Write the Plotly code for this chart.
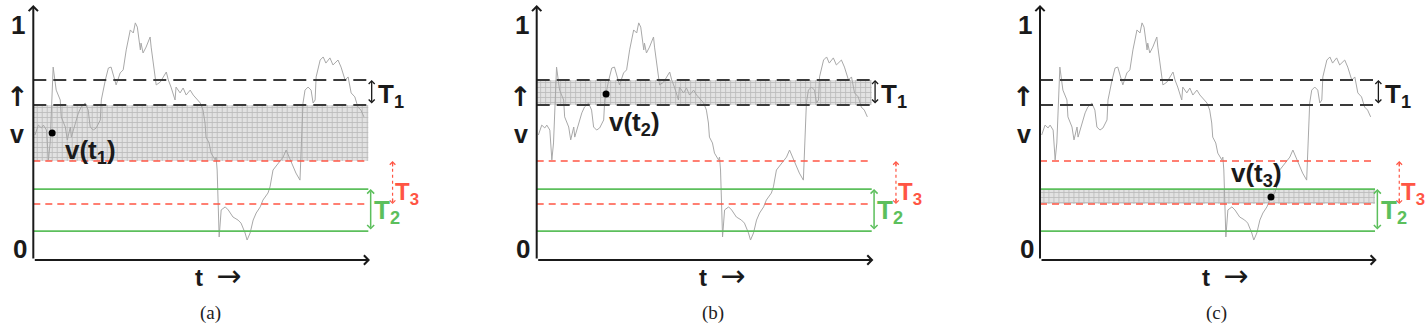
import plotly.graph_objects as go

# ---------------- data ----------------
T_WALK = [0.5, 1.5, 2.4, 3.0, 3.9, 4.5, 5.0, 5.9, 6.8, 8.0,
          8.3, 9.5, 10.1, 11.0, 11.3, 12.5, 13.4, 14.2, 15.4, 16.3,
          16.9, 17.8, 18.7, 19.9, 20.2, 21.4, 22.3, 23.1, 24.3, 24.6,
          25.8, 26.7, 27.6, 28.8, 29.7, 30.3, 30.9, 31.8, 32.0, 32.6,
          33.5, 34.7, 35.0, 35.6, 36.5, 37.7, 38.6, 39.5, 40.1, 40.9,
          42.1, 42.4, 43.6, 44.5, 45.4, 46.6, 47.5, 48.4, 49.6, 50.4,
          51.0, 51.3, 52.2, 52.8, 54.0, 54.3, 54.6, 55.2, 55.8, 57.0,
          57.9, 59.3, 60.8, 61.7, 62.9, 63.5, 64.4, 65.3, 66.2, 67.4,
          68.2, 69.7, 70.3, 71.2, 72.7, 74.2, 75.1, 76.3, 77.2, 78.0,
          79.2, 79.5, 80.1, 80.7, 81.6, 82.5, 83.1, 83.7, 84.0, 85.2,
          86.1, 86.9, 88.1, 89.0, 90.5, 91.4, 92.6, 93.5, 94.4, 95.5,
          96.4, 97.3, 98.2]
V_WALK = [0.532, 0.574, 0.562, 0.574, 0.553, 0.426, 0.498, 0.821, 0.723, 0.681,
          0.609, 0.566, 0.511, 0.566, 0.523, 0.583, 0.626, 0.651, 0.668, 0.638,
          0.566, 0.553, 0.562, 0.596, 0.681, 0.766, 0.817, 0.821, 0.766, 0.745,
          0.796, 0.809, 0.894, 0.979, 0.966, 1.009, 0.991, 0.894, 0.923, 0.881,
          0.906, 0.949, 0.906, 0.838, 0.745, 0.757, 0.779, 0.800, 0.766, 0.736,
          0.681, 0.736, 0.711, 0.732, 0.702, 0.723, 0.702, 0.689, 0.668, 0.638,
          0.583, 0.523, 0.498, 0.455, 0.426, 0.438, 0.383, 0.098, 0.213, 0.226,
          0.213, 0.183, 0.170, 0.157, 0.115, 0.085, 0.115, 0.170, 0.200, 0.226,
          0.255, 0.285, 0.311, 0.383, 0.413, 0.438, 0.468, 0.426, 0.396, 0.370,
          0.340, 0.455, 0.668, 0.723, 0.736, 0.723, 0.668, 0.681, 0.779, 0.851,
          0.864, 0.838, 0.860, 0.830, 0.851, 0.821, 0.766, 0.779, 0.711, 0.694,
          0.651, 0.638, 0.609]

V_T1 = [0.766, 0.660]   # black dashed thresholds (upper, lower)
V_T2 = [0.302, 0.123]   # green solid thresholds
V_T3 = [0.421, 0.238]   # red dashed thresholds

PANEL_LABELS = ["(a)", "(b)", "(c)"]
DOT_T = [5.6, 20.6, 68.6]
DOT_V = [0.540, 0.706, 0.268]
DOT_TEXT = ["v(t<sub>1</sub>)", "v(t<sub>2</sub>)", "v(t<sub>3</sub>)"]
DOT_TEXT_T = [17.1, 28.9, 64.4]
DOT_TEXT_V = [0.46, 0.583, 0.362]
BANDS = [(V_T3[0], V_T1[1]), (V_T1[1], V_T1[0]), (V_T3[1], V_T2[0])]

# ---------------- layout helpers ----------------
W, H = 1428, 324
PX_PER_T = 3.367
T_MIN, T_MAX = -7.0, 115.0
AXIS_X0 = [33.3, 536.7, 1040.0]      # pixel position of t=0 per panel
V_BOT, V_TOP = -0.2723, 1.1064
LINE_END = 99.5
AX_END_T = 100.0
AX_END_V = 1.085

SANS = "Liberation Sans, Arial, sans-serif"
SERIF = "Liberation Serif, Times New Roman, serif"
ARROWFONT = "DejaVu Sans"
BLACK = "#1a1a1a"
DASH_BLACK = "#3a3a3a"
RED = "#ff5544"
GREEN = "#5cbf5c"
WALK = "#a8a8a8"

fig = go.Figure()
annotations = []
layout = dict(width=W, height=H, margin=dict(l=0, r=0, t=0, b=0),
              paper_bgcolor="white", plot_bgcolor="white", showlegend=False)

for i in range(3):
    sfx = "" if i == 0 else str(i + 1)
    xr, yr = "x" + sfx, "y" + sfx
    x0px = AXIS_X0[i] + T_MIN * PX_PER_T
    x1px = x0px + (T_MAX - T_MIN) * PX_PER_T
    layout["xaxis" + sfx] = dict(domain=[x0px / W, min(x1px / W, 1.0)], range=[T_MIN, T_MAX],
                                 visible=False, anchor=yr, fixedrange=True)
    layout["yaxis" + sfx] = dict(domain=[0, 1], range=[V_BOT, V_TOP],
                                 visible=False, anchor=xr, fixedrange=True)

    lo, hi = BANDS[i]
    fig.add_trace(go.Scatter(x=[0, LINE_END, LINE_END, 0, 0], y=[lo, lo, hi, hi, lo],
                             mode="lines", fill="toself", line=dict(width=0),
                             fillcolor="#dedede",
                             fillpattern=dict(shape="+", fgcolor="#8f8f8f", bgcolor="#e2e2e2",
                                              size=5, solidity=0.3),
                             xaxis=xr, yaxis=yr, hoverinfo="skip"))
    fig.add_trace(go.Scatter(x=T_WALK, y=V_WALK, mode="lines",
                             line=dict(color=WALK, width=1), xaxis=xr, yaxis=yr))
    for v in V_T1:
        fig.add_trace(go.Scatter(x=[0, LINE_END], y=[v, v], mode="lines",
                                 line=dict(color=DASH_BLACK, width=2, dash="13px,7px"),
                                 xaxis=xr, yaxis=yr))
    for v in V_T3:
        fig.add_trace(go.Scatter(x=[0, LINE_END], y=[v, v], mode="lines",
                                 line=dict(color=RED, width=1.5, dash="7px,5px"),
                                 xaxis=xr, yaxis=yr))
    for v in V_T2:
        fig.add_trace(go.Scatter(x=[0, LINE_END], y=[v, v], mode="lines",
                                 line=dict(color=GREEN, width=1.8),
                                 xaxis=xr, yaxis=yr))
    # T3 dashed double arrow shaft
    fig.add_trace(go.Scatter(x=[106.7, 106.7], y=[V_T3[1] + 0.01, V_T3[0] - 0.01], mode="lines",
                             line=dict(color=RED, width=1.2, dash="3px,3px"),
                             xaxis=xr, yaxis=yr))
    fig.add_trace(go.Scatter(x=[DOT_T[i]], y=[DOT_V[i]], mode="markers",
                             marker=dict(color="black", size=7), xaxis=xr, yaxis=yr))

    def arrow(x, y, ax, ay, color, width, head=4, size=1.0, side="end"):
        annotations.append(dict(x=x, y=y, ax=ax, ay=ay, xref=xr, yref=yr,
                                axref=xr, ayref=yr, text="", showarrow=True,
                                arrowhead=head, arrowsize=size, arrowwidth=width,
                                arrowcolor=color, arrowside=side,
                                startarrowhead=head, startarrowsize=size))

    def label(x, y, text, size, color=BLACK, family=SANS, xanchor="center", yanchor="middle"):
        annotations.append(dict(x=x, y=y, xref=xr, yref=yr, text=text, showarrow=False,
                                font=dict(family=family, size=size, color=color),
                                xanchor=xanchor, yanchor=yanchor, borderpad=0))

    # axes
    arrow(0, AX_END_V, 0, 0, BLACK, 2, size=0.9)
    arrow(AX_END_T, 0, 0, 0, BLACK, 2, size=0.9)
    # threshold double arrows
    arrow(100.5, V_T1[0], 100.5, V_T1[1], BLACK, 1.3, size=0.9, side="end+start")
    arrow(100.2, V_T2[0], 100.2, V_T2[1], GREEN, 1.5, size=0.9, side="end+start")
    arrow(106.7, V_T3[0], 106.7, V_T3[0] - 0.03, RED, 1.2, size=0.9)
    arrow(106.7, V_T3[1], 106.7, V_T3[1] + 0.03, RED, 1.2, size=0.9)

    # texts
    label(-4.5, 1.0, "<b>1</b>", 26)
    label(-4.0, 0.045, "<b>0</b>", 26)
    label(-4.8, 0.695, "<b>↑</b>", 27, family=ARROWFONT)
    label(-4.8, 0.535, "<b>v</b>", 25)
    label(55.0, -0.065,
          "<b>t</b>  <span style='font-family:DejaVu Sans;font-size:30px'>→</span>", 24)
    label(52.5, -0.226, PANEL_LABELS[i], 19, color="#222", family=SERIF)
    label(102.1, 0.70, "<b>T<sub>1</sub></b>", 26, xanchor="left")
    label(100.9, 0.205, "<b>T<sub>2</sub></b>", 26, color=GREEN, xanchor="left")
    label(107.0, 0.285, "<b>T<sub>3</sub></b>", 24, color=RED, xanchor="left")
    label(DOT_TEXT_T[i], DOT_TEXT_V[i], "<b>" + DOT_TEXT[i] + "</b>", 26)

layout["annotations"] = annotations
fig.update_layout(**layout)
fig.write_html("out.html")
